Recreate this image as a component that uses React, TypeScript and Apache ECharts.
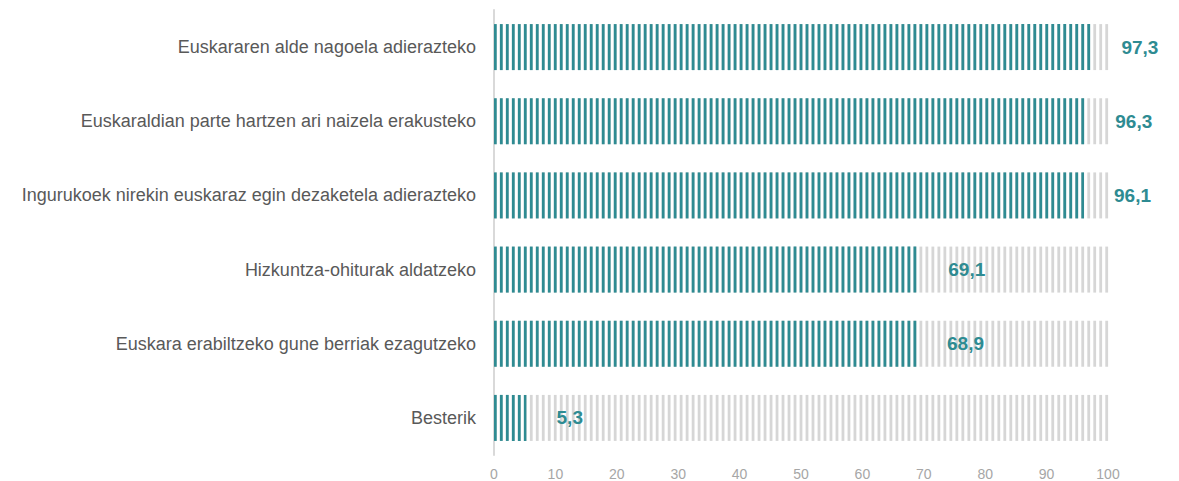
import React, { useEffect, useRef } from "react";
import * as echarts from "echarts";

const categories = [
  "Euskararen alde nagoela adierazteko",
  "Euskaraldian parte hartzen ari naizela erakusteko",
  "Ingurukoek nirekin euskaraz egin dezaketela adierazteko",
  "Hizkuntza-ohiturak aldatzeko",
  "Euskara erabiltzeko gune berriak ezagutzeko",
  "Besterik",
];
const values = [97.3, 96.3, 96.1, 69.1, 68.9, 5.3];
const maxValue = 100;
const xTicks = [0, 10, 20, 30, 40, 50, 60, 70, 80, 90, 100];

const TEAL = "#2e8b92";
const FONT = "Liberation Sans, Arial, sans-serif";

export default function App() {
  const ref = useRef<HTMLDivElement>(null);
  useEffect(() => {
    if (!ref.current) return;
    const chart = echarts.init(ref.current, null, { renderer: "svg" });
    const stripe = {
      symbol: "rect",
      symbolSize: [2.6, 46],
      symbolMargin: 1.7,
      symbolBoundingData: maxValue,
    };
    chart.setOption({
      animation: false,
      textStyle: { fontFamily: FONT },
      grid: { left: 494, right: 71, top: 10, bottom: 26, containLabel: false },
      xAxis: {
        type: "value",
        min: xTicks[0],
        max: xTicks[xTicks.length - 1],
        interval: 10,
        axisLine: { show: false },
        axisTick: { show: false },
        splitLine: { show: false },
        axisLabel: { color: "#a6a6a6", fontSize: 14, margin: 12, fontFamily: FONT },
      },
      yAxis: {
        type: "category",
        inverse: true,
        data: categories,
        axisLine: { show: true, lineStyle: { color: "#d9d9d9", width: 2 } },
        axisTick: { show: false },
        axisLabel: { color: "#595959", fontSize: 18, margin: 18, fontFamily: FONT },
      },
      series: [
        {
          type: "pictorialBar",
          ...stripe,
          symbolRepeat: "fixed",
          itemStyle: { color: "#d6d6d6" },
          data: values.map(() => maxValue),
          z: 1,
          silent: true,
        },
        {
          type: "pictorialBar",
          ...stripe,
          symbolRepeat: "fixed",
          symbolClip: true,
          itemStyle: { color: TEAL },
          data: values,
          z: 2,
        },
        {
          type: "bar",
          barGap: "-100%",
          barWidth: 46,
          itemStyle: { color: "transparent" },
          data: values,
          z: 3,
          label: {
            show: true,
            position: "right",
            distance: 30,
            color: TEAL,
            fontWeight: "bold",
            fontSize: 19,
            fontFamily: FONT,
            formatter: (p: any) => String(p.value).replace(".", ","),
          },
        },
      ],
    });
    return () => chart.dispose();
  }, []);
  return (
    <div
      ref={ref}
      style={{ position: "absolute", left: 0, top: 0, width: 1179, height: 481 }}
    />
  );
}
